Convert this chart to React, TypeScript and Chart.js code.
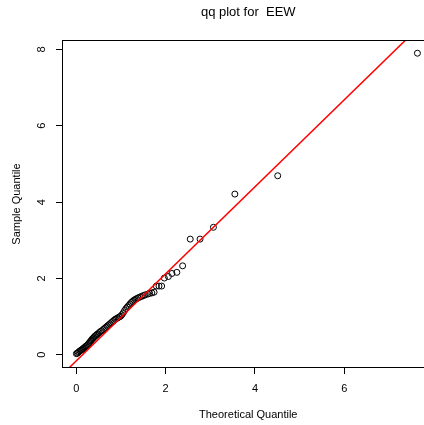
import React, { useEffect, useRef } from "react";
import { Chart, registerables } from "chart.js";

Chart.register(...registerables);

const titleText = "qq plot for  EEW";
const xAxisTitle = "Theoretical Quantile";
const yAxisTitle = "Sample Quantile";
const xTickValues = [0, 2, 4, 6];
const yTickValues = [0, 2, 4, 6, 8];

const theoreticalQuantiles = [
  0.0, 0.02, 0.04, 0.06, 0.08, 0.1, 0.12, 0.14, 0.16, 0.18, 0.2, 0.22, 0.24,
  0.26, 0.28, 0.3, 0.32, 0.34, 0.36, 0.38, 0.4, 0.42, 0.44, 0.46, 0.48, 0.51,
  0.54, 0.57, 0.6, 0.63, 0.66, 0.69, 0.72, 0.75, 0.78, 0.81, 0.84, 0.87, 0.9,
  0.93, 0.96, 0.99, 1.02, 1.05, 1.08, 1.11, 1.14, 1.17, 1.2, 1.23, 1.26, 1.29,
  1.32, 1.35, 1.38, 1.42, 1.46, 1.5, 1.54, 1.6, 1.64, 1.69, 1.74, 1.79, 1.85,
  1.91, 1.97, 2.06, 2.14, 2.25, 2.38, 2.55, 2.77, 3.07, 3.55, 4.51, 7.64,
];
const sampleQuantiles = [
  0.03, 0.04, 0.06, 0.08, 0.1, 0.12, 0.13, 0.15, 0.17, 0.19, 0.21, 0.23, 0.25,
  0.27, 0.3, 0.33, 0.36, 0.39, 0.42, 0.44, 0.47, 0.49, 0.51, 0.53, 0.55, 0.58,
  0.61, 0.63, 0.66, 0.69, 0.72, 0.75, 0.78, 0.81, 0.84, 0.87, 0.9, 0.93, 0.95,
  0.97, 0.99, 1.01, 1.05, 1.1, 1.16, 1.21, 1.25, 1.29, 1.33, 1.37, 1.4, 1.43,
  1.45, 1.47, 1.49, 1.51, 1.53, 1.55, 1.57, 1.59, 1.61, 1.62, 1.64, 1.8, 1.8,
  1.8, 2.01, 2.05, 2.13, 2.16, 2.33, 3.03, 3.03, 3.34, 4.21, 4.69, 7.9,
];

const refLineX = [-0.5, 8.5];
const refLineY = [-0.726, 9.526];

const FONT = "'Liberation Sans', Arial, Helvetica, sans-serif";

export default function App() {
  const ref = useRef<HTMLCanvasElement | null>(null);

  useEffect(() => {
    const canvas = ref.current;
    if (!canvas) return;
    Chart.defaults.font.family = FONT;
    Chart.defaults.color = "#000";

    const framePlugin = {
      id: "frameAndTitle",
      afterDraw(chart: any) {
        const { ctx, chartArea } = chart;
        ctx.save();
        ctx.strokeStyle = "#000";
        ctx.lineWidth = 1;
        ctx.strokeRect(
          chartArea.left - 0.5,
          chartArea.top - 0.5,
          chartArea.right - chartArea.left + 1,
          chartArea.bottom - chartArea.top + 1
        );
        ctx.fillStyle = "#000";
        ctx.font = `13px ${FONT}`;
        ctx.textAlign = "center";
        ctx.textBaseline = "middle";
        ctx.fillText(titleText, (chartArea.left + chartArea.right) / 2, 12);
        ctx.restore();
      },
    };

    const chart = new Chart(canvas, {
      type: "scatter",
      data: {
        datasets: [
          {
            type: "line",
            data: refLineX.map((x, i) => ({ x, y: refLineY[i] })),
            borderColor: "#ff0000",
            borderWidth: 1.5,
            pointRadius: 0,
            fill: false,
          } as any,
          {
            data: theoreticalQuantiles.map((x, i) => ({ x, y: sampleQuantiles[i] })),
            pointStyle: "circle",
            pointRadius: 3,
            borderWidth: 1,
            borderColor: "#000",
            backgroundColor: "rgba(0,0,0,0)",
          },
        ],
      },
      options: {
        responsive: false,
        animation: false,
        events: [],
        layout: { padding: { top: 41, right: 6.5, bottom: 0, left: 0 } },
        plugins: {
          legend: { display: false },
          tooltip: { enabled: false },
          title: { display: false },
        },
        scales: {
          x: {
            type: "linear",
            min: -0.3,
            max: 8.0,
            afterBuildTicks: (scale: any) => {
              scale.ticks = xTickValues.map((v) => ({ value: v }));
            },
            afterFit: (scale: any) => {
              scale.height = 58;
            },
            border: { display: false },
            grid: {
              drawOnChartArea: false,
              drawTicks: true,
              tickLength: 7,
              color: "#000",
              lineWidth: 1,
            },
            ticks: {
              font: { size: 11, family: FONT },
              color: "#000",
              padding: 8,
              maxRotation: 0,
              minRotation: 0,
            },
            title: {
              display: true,
              text: xAxisTitle,
              font: { size: 11, family: FONT },
              color: "#000",
              padding: { top: 0, bottom: 3 },
            },
          },
          y: {
            type: "linear",
            min: -0.32,
            max: 8.22,
            afterBuildTicks: (scale: any) => {
              scale.ticks = yTickValues.map((v) => ({ value: v }));
            },
            afterFit: (scale: any) => {
              scale.width = 63;
            },
            border: { display: false },
            grid: {
              drawOnChartArea: false,
              drawTicks: true,
              tickLength: 7,
              color: "#000",
              lineWidth: 1,
            },
            ticks: {
              font: { size: 11, family: FONT },
              color: "#000",
              padding: 11,
              minRotation: 90,
              maxRotation: 90,
              crossAlign: "center",
            },
            title: {
              display: true,
              text: yAxisTitle,
              font: { size: 11, family: FONT },
              color: "#000",
              padding: { top: 10, bottom: 0 },
            },
          },
        },
      },
      plugins: [framePlugin],
    });

    return () => chart.destroy();
  }, []);

  return (
    <div
      style={{
        position: "fixed",
        left: 0,
        top: 0,
        width: 424,
        height: 425,
        overflow: "hidden",
        background: "#fff",
      }}
    >
      <canvas ref={ref} width={440} height={425} style={{ width: 440, height: 425, display: "block" }} />
    </div>
  );
}
